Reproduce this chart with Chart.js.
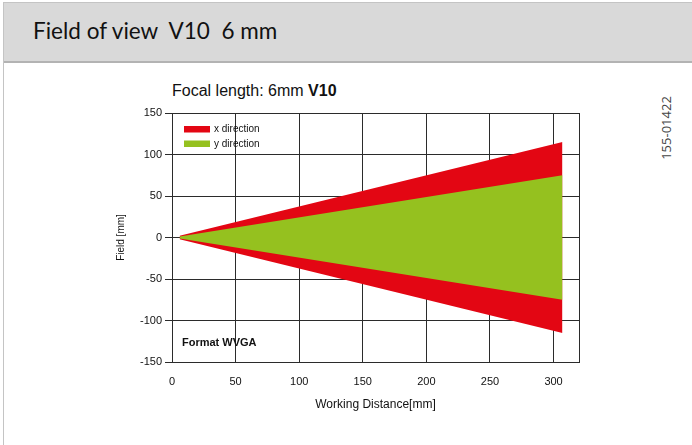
<!DOCTYPE html>
<html lang="en">
<head>
    <meta charset="UTF-8">
    <title>Field of view V10 6 mm</title>
    <script src="https://cdn.jsdelivr.net/npm/chart.js"></script>
    <style>
        body { margin: 0; width: 692px; height: 445px; background: #fff; position: relative; overflow: hidden; }
        .frame { position: absolute; left: 3px; top: 2px; right: 0; bottom: 0; border-left: 1px solid #c4c4c4; border-top: 1px solid #c4c4c4; }
        .head {
            position: absolute; left: 4px; top: 3px; right: 0; height: 58px;
            background: #d9d9d9; border-bottom: 2px solid #b3b3b3;
        }
        .head span {
            position: absolute; left: 29px; top: 14px;
            font-family: Lato, "Open Sans", sans-serif; font-size: 22.5px; color: #111; white-space: pre;
        }
        .title {
            position: absolute; left: 172px; top: 82px;
            font-family: "Liberation Sans", Arial, sans-serif; font-size: 16px; color: #111;
        }
        .code {
            position: absolute; left: 657px; top: 128px; transform-origin: 0 0;
            transform: rotate(-90deg) translate(-50%, 0);
            font-family: "Open Sans", sans-serif; font-size: 13px; color: #444; white-space: nowrap;
        }
        #fov { position: absolute; left: 0; top: 64px; }
    </style>
</head>
<body>
    <div class="frame"></div>
    <div class="head"><span>Field of view  V10  6 mm</span></div>
    <div class="title">Focal length: 6mm <b>V10</b></div>
    <div class="code">155-01422</div>
    <canvas id="fov" width="620" height="381"></canvas>

    <script>
        // working distance (mm) and half field per direction (mm)
        const distance = [6, 307];
        const xUpper = [2, 115];
        const xLower = [-2, -115];
        const yUpper = [1.3, 75];
        const yLower = [-1.3, -75];

        const xTicks = [0, 50, 100, 150, 200, 250, 300];
        const xMax = 320;

        const red = '#e30613';
        const green = '#95c11f';

        function pts(ys) {
            return distance.map((d, i) => ({ x: d, y: ys[i] }));
        }

        // legend and format label inside the plot
        const innerText = {
            id: 'innerText',
            afterDatasetsDraw(chart) {
                const ctx = chart.ctx;
                const a = chart.chartArea;
                ctx.save();
                ctx.fillStyle = red;
                ctx.fillRect(a.left + 12, a.top + 13, 26, 6.5);
                ctx.fillStyle = green;
                ctx.fillRect(a.left + 12, a.top + 27.5, 26, 6.5);
                ctx.fillStyle = '#111';
                ctx.font = '10px "Liberation Sans", Arial, sans-serif';
                ctx.textBaseline = 'middle';
                ctx.fillText('x direction', a.left + 42, a.top + 16.5);
                ctx.fillText('y direction', a.left + 42, a.top + 31);
                ctx.font = 'bold 11px "Liberation Sans", Arial, sans-serif';
                ctx.fillText('Format WVGA', a.left + 10, a.bottom - 19);
                ctx.restore();
            }
        };

        const tickFont = { family: '"Liberation Sans", Arial, sans-serif', size: 11 };

        new Chart(document.getElementById('fov'), {
            type: 'line',
            data: {
                datasets: [
                    { label: 'y direction', data: pts(yUpper), backgroundColor: green, borderWidth: 0, pointRadius: 0, fill: false },
                    { label: 'y direction', data: pts(yLower), backgroundColor: green, borderWidth: 0, pointRadius: 0, fill: 0 },
                    { label: 'x direction', data: pts(xUpper), backgroundColor: red, borderWidth: 0, pointRadius: 0, fill: false },
                    { label: 'x direction', data: pts(xLower), backgroundColor: red, borderWidth: 0, pointRadius: 0, fill: 2 }
                ]
            },
            options: {
                responsive: false,
                animation: false,
                devicePixelRatio: 1,
                layout: { padding: { left: 108, right: 41, top: 49, bottom: 23 } },
                plugins: { legend: { display: false }, tooltip: { enabled: false } },
                scales: {
                    x: {
                        type: 'linear', min: 0, max: xMax,
                        afterFit: s => { s.height = 60; },
                        // grid line at the right edge, but no label there
                        afterBuildTicks: s => { s.ticks = xTicks.concat([xMax]).map(v => ({ value: v })); },
                        ticks: {
                            padding: 13, color: '#111', font: tickFont, maxRotation: 0,
                            callback: v => (v === xMax ? '' : v)
                        },
                        grid: { color: '#2b2b2b', lineWidth: 1, drawTicks: false },
                        border: { color: '#2b2b2b' },
                        title: {
                            display: true, text: 'Working Distance[mm]', color: '#111',
                            font: { family: '"Liberation Sans", Arial, sans-serif', size: 12 },
                            padding: { top: 4, bottom: 10 }
                        }
                    },
                    y: {
                        min: -150, max: 150,
                        afterFit: s => { s.width = 64; },
                        ticks: { stepSize: 50, padding: 3, color: '#111', font: tickFont },
                        grid: { color: '#2b2b2b', lineWidth: 1, tickLength: 7 },
                        border: { color: '#2b2b2b' },
                        title: {
                            display: true, text: 'Field [mm]', color: '#111',
                            font: { family: '"Liberation Sans", Arial, sans-serif', size: 10 },
                            padding: { top: 7, bottom: 4 }
                        }
                    }
                }
            },
            plugins: [innerText]
        });
    </script>
</body>
</html>
